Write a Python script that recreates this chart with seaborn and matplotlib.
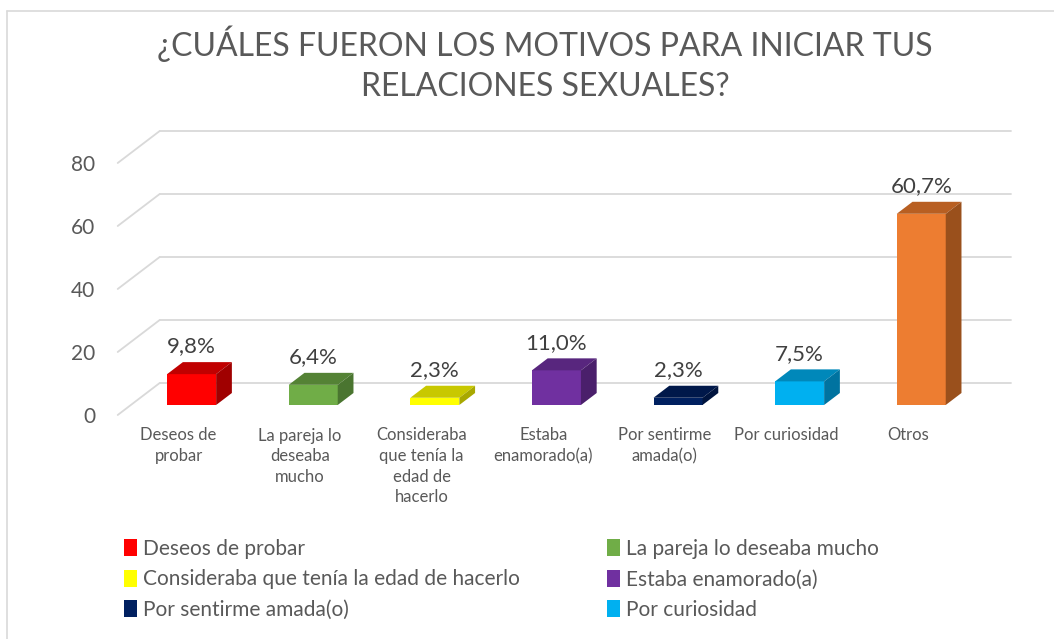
import numpy as np
import pandas as pd
import matplotlib
matplotlib.use("Agg")
import matplotlib.pyplot as plt
import seaborn as sns
from matplotlib.patches import Polygon, Patch
from matplotlib.lines import Line2D

# Datos del grafico
categorias = ["Deseos de probar", "La pareja lo deseaba mucho",
              "Consideraba que tenía la edad de hacerlo", "Estaba enamorado(a)",
              "Por sentirme amada(o)", "Por curiosidad", "Otros"]
etiquetas_eje = ["Deseos de\nprobar", "La pareja lo\ndeseaba\nmucho",
                 "Consideraba\nque tenía la\nedad de\nhacerlo", "Estaba\nenamorado(a)",
                 "Por sentirme\namada(o)", "Por curiosidad", "Otros"]
porcentajes = [9.8, 6.4, 2.3, 11.0, 2.3, 7.5, 60.7]
ticks_y = [0, 20, 40, 60, 80]

color_frente = ["#FF0000", "#70AD47", "#FFFF00", "#7030A0", "#002060", "#00B0F0", "#ED7D31"]
color_arriba = ["#C00000", "#548235", "#C8C800", "#58267E", "#00184A", "#0088BA", "#B85F22"]
color_lado = ["#A00000", "#4A7530", "#A8A800", "#4A1F6B", "#00143E", "#0073A0", "#9A501C"]

df = pd.DataFrame({"motivo": categorias, "pct": porcentajes})

sns.set_theme(style="white")
plt.rcParams["font.family"] = ["Lato", "DejaVu Sans"]

W, H = 1054, 639
fig = plt.figure(figsize=(W / 100, H / 100), dpi=100)
# eje en el plano frontal: x -0.5..6.5, y 0..80
x0, x1 = 117.7, 968.9
y0, y1 = 415, 163
ax = fig.add_axes([x0 / W, (H - y0) / H, (x1 - x0) / W, (y0 - y1) / H])

px_x = (x1 - x0) / 7.0
px_y = (y0 - y1) / 80.0
DX = 42 / px_x      # profundidad total en unidades de categoria
DY = 32 / px_y      # profundidad total en unidades de valor
d0, d1 = 10 / 32, 22 / 32   # profundidad de las barras

# rejilla (pared izquierda y pared del fondo)
gris = "#D9D9D9"
for v in ticks_y:
    ax.plot([-0.5, -0.5 + DX], [v, v + DY], color=gris, lw=1.3, clip_on=False, zorder=1)
    ax.plot([-0.5 + DX, 6.5 + DX], [v + DY, v + DY], color=gris, lw=1.3, clip_on=False, zorder=1)

sns.barplot(data=df, x="motivo", y="pct", hue="motivo", palette=color_frente,
            legend=False, width=49 / px_x, ax=ax, saturation=1, linewidth=0, zorder=3)

patches = sorted(ax.patches, key=lambda p: p.get_x())
for i, p in enumerate(patches):
    p.set_x(p.get_x() + d0 * DX)
    p.set_y(d0 * DY)
    p.set_clip_on(False)
    xa = p.get_x()
    xb = xa + p.get_width()
    yb = p.get_y()
    yt = yb + p.get_height()
    ddx = (d1 - d0) * DX
    ddy = (d1 - d0) * DY
    top = Polygon([(xa, yt), (xb, yt), (xb + ddx, yt + ddy), (xa + ddx, yt + ddy)],
                  closed=True, facecolor=color_arriba[i], edgecolor="none", zorder=3, clip_on=False)
    side = Polygon([(xb, yb), (xb + ddx, yb + ddy), (xb + ddx, yt + ddy), (xb, yt)],
                   closed=True, facecolor=color_lado[i], edgecolor="none", zorder=3, clip_on=False)
    ax.add_patch(top)
    ax.add_patch(side)
    ax.annotate(f"{porcentajes[i]:.1f}%".replace(".", ","), ((xa + xb) / 2, yt + ddy),
                xytext=(0, 4), textcoords="offset points", ha="center", va="bottom",
                fontsize=16, color="#404040", annotation_clip=False, zorder=4)

ax.set_xlim(-0.5, 6.5)
ax.set_ylim(0, 80)
ax.set_yticks(ticks_y)
ax.set_yticklabels([str(t) for t in ticks_y])
ax.set_xticks(range(len(categorias)))
ax.set_xticklabels(etiquetas_eje, linespacing=1.35)
ax.tick_params(axis="y", length=0, pad=16, labelsize=15, labelcolor="#595959")
ax.tick_params(axis="x", length=0, pad=9, labelsize=12, labelcolor="#595959")
ax.set_xlabel("")
ax.set_ylabel("")
for s in ax.spines.values():
    s.set_visible(False)
ax.patch.set_alpha(0)

# titulo
fig.text(545 / W, 1 - 44 / H, "¿CUÁLES FUERON LOS MOTIVOS PARA INICIAR TUS",
         ha="center", va="center", fontsize=23, color="#595959")
fig.text(545 / W, 1 - 87 / H, "RELACIONES SEXUALES?",
         ha="center", va="center", fontsize=23, color="#595959")

# leyenda (dos columnas)
col1 = [0, 2, 4]
col2 = [1, 3, 5]
for cols, xpos in [(col1, 124), (col2, 607)]:
    handles = [Patch(facecolor=color_frente[k], edgecolor="none") for k in cols]
    leg = fig.legend(handles, [categorias[k] for k in cols], loc="upper left",
                     bbox_to_anchor=(xpos / W, 1 - 539 / H), frameon=False,
                     fontsize=15, handlelength=0.6, handleheight=0.85, handletextpad=0.3,
                     labelspacing=0.5, borderaxespad=0, borderpad=0)
    for t in leg.get_texts():
        t.set_color("#595959")

# marco del grafico
fig.add_artist(Line2D([7 / W, 1], [1 - 11 / H, 1 - 11 / H], color=gris, lw=1.2))
fig.add_artist(Line2D([7 / W, 7 / W], [1 - 11 / H, 0], color=gris, lw=1.2))

fig.savefig("out.png", dpi=100)
